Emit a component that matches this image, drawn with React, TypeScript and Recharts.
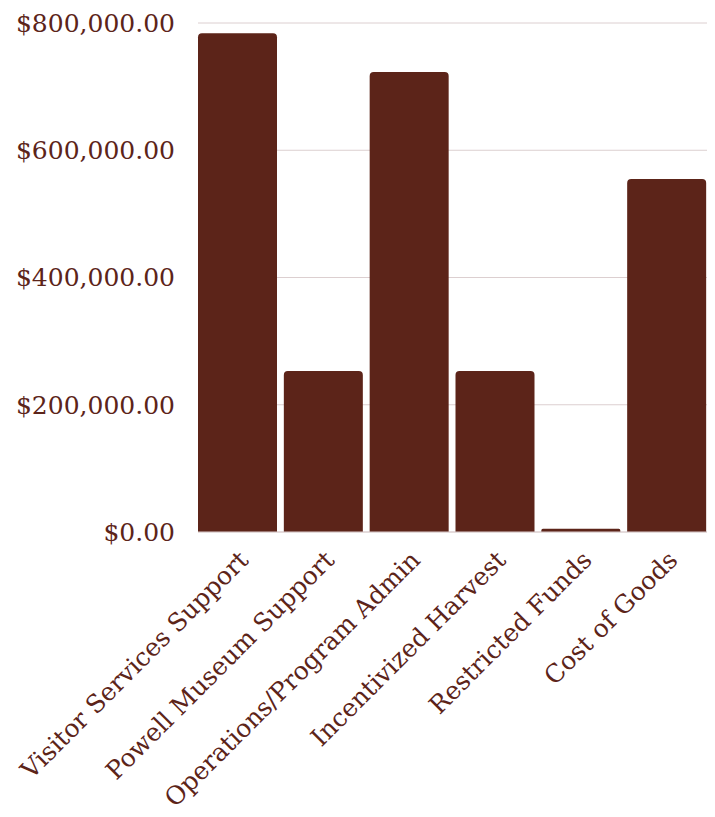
import { BarChart, Bar, XAxis, YAxis, CartesianGrid } from "recharts";

const categories = [
  "Visitor Services Support",
  "Powell Museum Support",
  "Operations/Program Admin",
  "Incentivized Harvest",
  "Restricted Funds",
  "Cost of Goods",
];

const amounts = [784000, 253000, 723000, 253000, 5000, 555000];

const yTicks = [0, 200000, 400000, 600000, 800000];

const data = categories.map((name, i) => ({ name, amount: amounts[i] }));

const BROWN = "#5c2419";
const FONT = "'DejaVu Serif', serif";

const money = (v: number) =>
  "$" + v.toLocaleString("en-US", { minimumFractionDigits: 2, maximumFractionDigits: 2 });

export default function App() {
  return (
    <div style={{ width: 715, height: 817 }}>
      <style>{`body{margin:0}`}</style>
      <BarChart
        width={715}
        height={817}
        data={data}
        margin={{ top: 23, right: 8, bottom: 0, left: 0 }}
        barCategoryGap={3.5}
      >
        <CartesianGrid vertical={false} stroke="#dccfd0" strokeWidth={1} />
        <XAxis
          dataKey="name"
          interval={0}
          height={285}
          axisLine={{ stroke: "#dccfd0" }}
          tickLine={false}
          tickSize={0}
          tickMargin={17}
          padding={{ left: -3.5, right: -2.5 }}
          angle={-45}
          textAnchor="end"
          tick={{ fontSize: 25, fill: BROWN, fontFamily: FONT }}
        />
        <YAxis
          width={198}
          domain={[0, 800000]}
          ticks={yTicks}
          tickFormatter={money}
          axisLine={false}
          tickLine={false}
          tickSize={0}
          tickMargin={23}
          tick={{ fontSize: 25, fill: BROWN, fontFamily: FONT }}
        />
        <Bar dataKey="amount" fill={BROWN} radius={[4, 4, 0, 0]} isAnimationActive={false} />
      </BarChart>
    </div>
  );
}
